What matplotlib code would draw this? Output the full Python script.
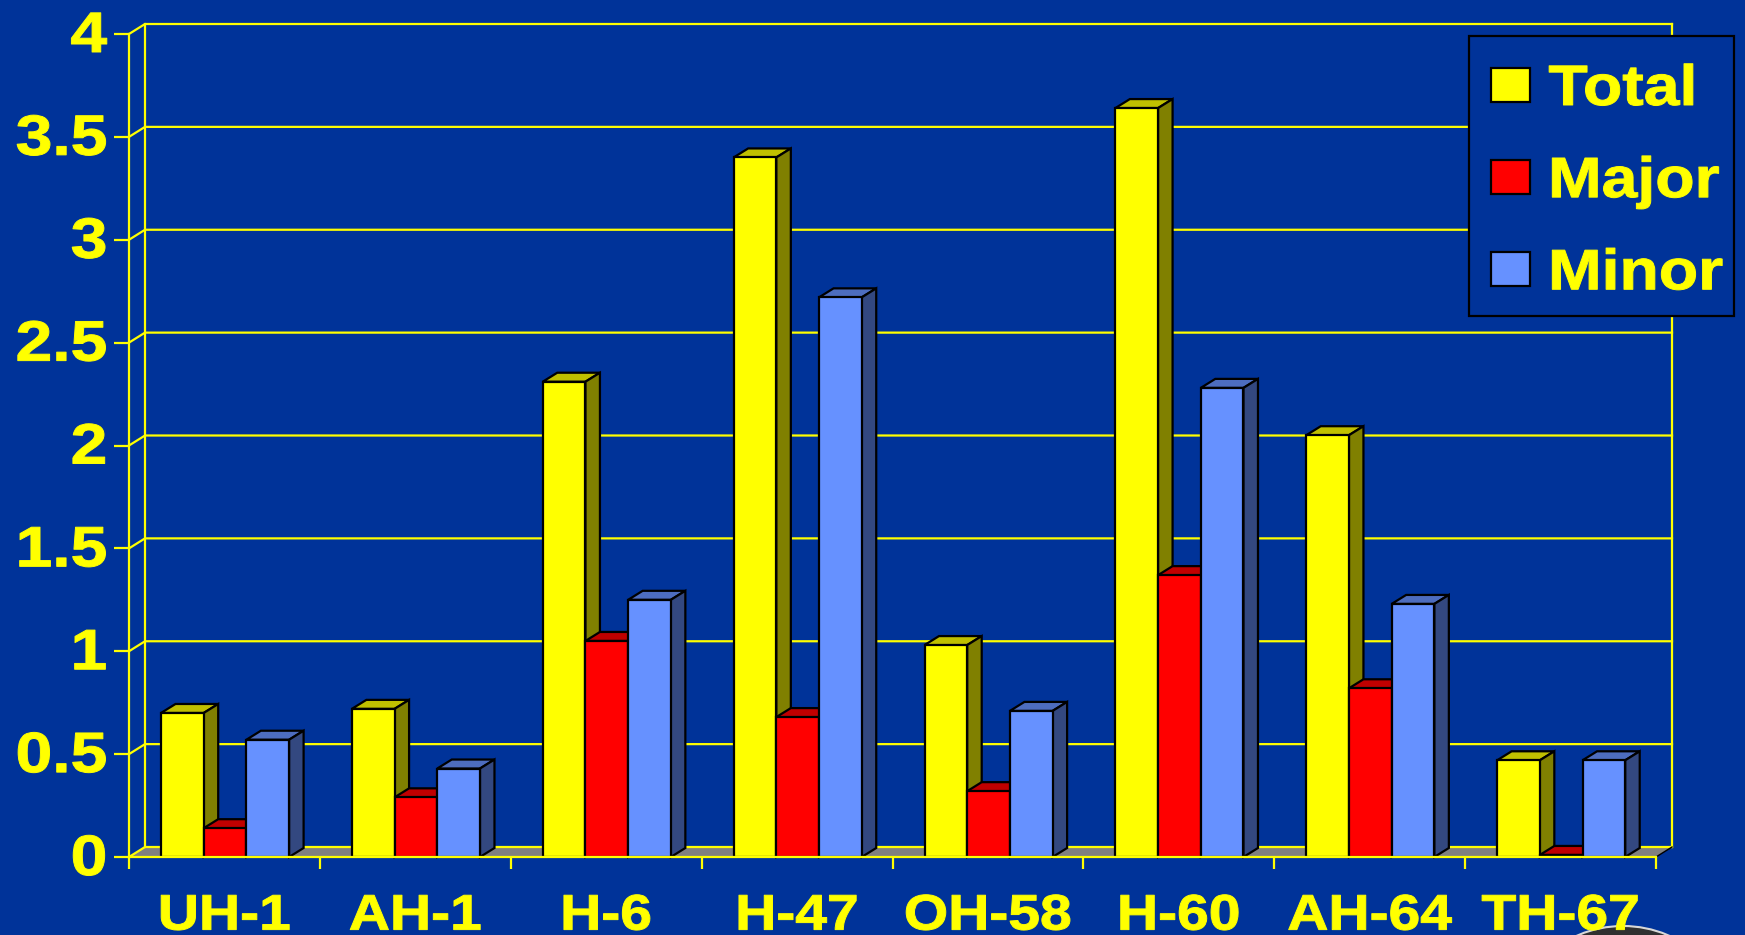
import matplotlib
matplotlib.use('Agg')
import numpy as np
from matplotlib import pyplot as plt
from matplotlib.patches import Polygon, Ellipse, Patch, Rectangle
from matplotlib.patheffects import AbstractPathEffect
from matplotlib.transforms import Affine2D

W, H = 1745, 935

categories = ['UH-1', 'AH-1', 'H-6', 'H-47', 'OH-58', 'H-60', 'AH-64', 'TH-67']
total = [0.70, 0.72, 2.31, 3.40, 1.03, 3.64, 2.05, 0.47]
major = [0.14, 0.29, 1.05, 0.68, 0.32, 1.37, 0.82, 0.01]
minor = [0.57, 0.43, 1.25, 2.72, 0.71, 2.28, 1.23, 0.47]
y_ticks = [0, 0.5, 1, 1.5, 2, 2.5, 3, 3.5, 4]
y_labels = ['0', '0.5', '1', '1.5', '2', '2.5', '3', '3.5', '4']

BG = '#003399'
YEL = '#FFFF00'
LW = 1.6
# front, top, side
series = [
    ('Total', total, '#FFFF00', '#C0C000', '#808000'),
    ('Major', major, '#FF0000', '#C00000', '#800000'),
    ('Minor', minor, '#6691FF', '#4D6DBF', '#334880'),
]

plt.rcParams['font.family'] = ['Liberation Sans', 'DejaVu Sans']
plt.rcParams['font.weight'] = 'bold'


# the slide font is wider and heavier than Liberation Sans Bold
class WideText(AbstractPathEffect):
    def __init__(self, sx, pivot, dy=0, stroke=0.7):
        super().__init__()
        self.sx, self.pivot, self.dy, self.stroke = sx, pivot, dy, stroke

    def draw_path(self, renderer, gc, tpath, affine, rgbFace=None):
        ext = tpath.get_extents()
        p = {'left': ext.x0, 'center': (ext.x0 + ext.x1) / 2, 'right': ext.x1}[self.pivot]
        stretch = Affine2D().translate(-p, 0).scale(self.sx, 1).translate(p, 0)
        gc0 = renderer.new_gc()
        gc0.copy_properties(gc)
        gc0.set_linewidth(self.stroke)
        gc0.set_foreground(rgbFace)
        super().draw_path(renderer, gc0, tpath,
                          stretch + affine + Affine2D().translate(0, self.dy), rgbFace)
        gc0.restore()


fig = plt.figure(figsize=(W / 100, H / 100), dpi=100, facecolor=BG)

# edge of the emblem that the slide crops at the bottom
fig.add_artist(Ellipse((1623 / W, 1 - 1041 / H), 230 / W, 230 / H, fc='#303030', ec='#d8d8d8', lw=1.5,
                       transform=fig.transFigure, zorder=-1))

# front plane of the 3d box, in pixels: x 129..1656, y 34..857
ax = fig.add_axes([129 / W, 1 - 857 / H, (1656 - 129) / W, (857 - 34) / H], facecolor='none')
ax.set_xlim(0, len(categories))
ax.set_ylim(0, 4)

px_x = len(categories) / (1656 - 129)
px_y = 4 / (857 - 34)
wall_dx, wall_dy = 16 * px_x, 10 * px_y
bar_dx, bar_dy = 14.5 * px_x, 9 * px_y
n = len(categories)

# floor and back wall
ax.add_patch(Polygon([(0, 0), (n, 0), (n + wall_dx, wall_dy), (wall_dx, wall_dy)],
                     fc='#808080', ec='none', zorder=1, clip_on=False))
for v in y_ticks:
    ax.plot([0, wall_dx, n + wall_dx], [v, v + wall_dy, v + wall_dy], color=YEL, lw=LW,
            zorder=2, clip_on=False)
ax.plot([wall_dx, wall_dx], [wall_dy, 4 + wall_dy], color=YEL, lw=LW, zorder=2, clip_on=False)
ax.plot([n + wall_dx, n + wall_dx], [wall_dy, 4 + wall_dy], color=YEL, lw=LW, zorder=2, clip_on=False)
ax.plot([n, n + wall_dx], [0, wall_dy], color='black', lw=1.0, zorder=2, clip_on=False)

# bars, left to right so every front covers the side of the one before
bar_w = 42.7 * px_x
start = 32 * px_x
z = 3
for i in range(n):
    for j, (name, vals, front, top, side) in enumerate(series):
        x0 = i + start + j * bar_w
        x1 = x0 + bar_w
        v = vals[i]
        ax.add_patch(Polygon([(x0, v), (x1, v), (x1 + bar_dx, v + bar_dy), (x0 + bar_dx, v + bar_dy)],
                             fc=top, ec='black', lw=LW, joinstyle='miter', zorder=z, clip_on=False))
        ax.add_patch(Polygon([(x1, 0), (x1 + bar_dx, bar_dy), (x1 + bar_dx, v + bar_dy), (x1, v)],
                             fc=side, ec='black', lw=LW, joinstyle='miter', zorder=z, clip_on=False))
        ax.bar(x0, v, bar_w, align='edge', color=front, edgecolor='black', lw=LW, zorder=z + 1)
        z += 2

for s in ['top', 'right']:
    ax.spines[s].set_visible(False)
for s in ['left', 'bottom']:
    ax.spines[s].set_color(YEL)
    ax.spines[s].set_linewidth(LW)
    ax.spines[s].set_zorder(z)

ax.set_yticks(y_ticks)
ax.set_yticklabels(y_labels)
ax.set_xticks(np.arange(n + 1))
ax.set_xticklabels([])
ax.set_xticks(np.arange(n) + 0.5, minor=True)
ax.set_xticklabels(categories, minor=True)
ax.tick_params(axis='y', colors=YEL, length=10.8, width=LW, labelsize=41, pad=5)
ax.tick_params(axis='x', which='major', colors=YEL, length=8.6, width=LW, direction='out')
ax.tick_params(axis='x', which='minor', length=0, labelcolor=YEL, labelsize=36, pad=17)

for t in ax.get_yticklabels():
    t.set_path_effects([WideText(1.16, 'right', dy=3)])
for t in ax.get_xticklabels(minor=True):
    t.set_path_effects([WideText(1.14, 'center', dy=-13)])

# legend frame on its own, the text rows need more room above than below
ax.add_patch(Rectangle((1469 / W, 1 - 316 / H), 265 / W, 280 / H, fc=BG, ec='black', lw=LW,
                       transform=fig.transFigure, zorder=z + 1, clip_on=False))
handles = [Patch(fc=s[2], ec='black', lw=LW) for s in series]
leg = ax.legend(handles, [s[0] for s in series], loc='upper left',
                bbox_to_anchor=(1491 / W, 1 - 63 / H), bbox_transform=fig.transFigure,
                fontsize=41, labelcolor=YEL, frameon=False, borderaxespad=0, borderpad=0,
                labelspacing=0.67, handlelength=0.68, handleheight=0.55, handletextpad=0.33)
leg.set_zorder(z + 2)
for t in leg.get_texts():
    t.set_path_effects([WideText(1.13, 'left')])

fig.savefig('out.png', dpi=100, facecolor=BG)
